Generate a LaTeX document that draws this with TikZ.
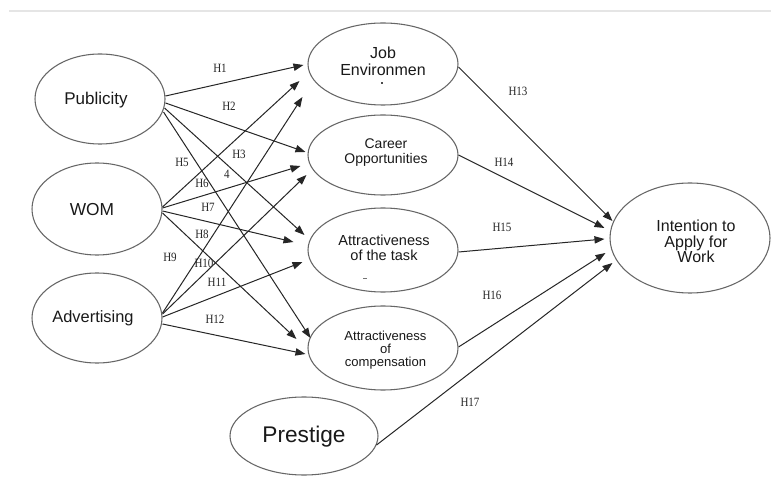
\documentclass[tikz,border=0pt]{standalone}
\usepackage{fontspec}
\setmainfont{Liberation Sans}
\newfontfamily\hfont[FakeStretch=0.87]{Liberation Serif}
\usetikzlibrary{arrows.meta,shapes.geometric}
\begin{document}
\begin{tikzpicture}[x=0.75pt,y=-0.75pt,
  ell/.style={draw=black!60, line width=0.8pt, ellipse, inner sep=0pt},
  lbl/.style={font=\hfont\fontsize{9.5}{10}\selectfont, text=black!85, inner sep=0pt},
  arr/.style={draw=black!85, line width=0.75pt, -{Triangle[length=7.5pt,width=5.5pt]}},
  txt/.style={align=center, inner sep=0pt, text=black!90}
]
\useasboundingbox (0,0) rectangle (771,477);
\fill[white] (0,0) rectangle (771,477);
\draw[black!10, line width=1.8pt] (9,11) -- (771,11);

% ellipses
\node[ell, minimum width=97.5pt, minimum height=67.5pt] (pub) at (100,99) {};
\node[ell, minimum width=97.5pt, minimum height=69pt] (wom) at (97,209) {};
\node[ell, minimum width=97.5pt, minimum height=67.5pt] (adv) at (97,318) {};
\node[ell, minimum width=111pt, minimum height=58.5pt] (pre) at (304,436) {};
\node[ell, minimum width=112.5pt, minimum height=61.5pt] (job) at (383,64) {};
\node[ell, minimum width=112.5pt, minimum height=60pt] (car) at (383,155) {};
\node[ell, minimum width=112.5pt, minimum height=63pt] (task) at (383,250) {};
\node[ell, minimum width=112.5pt, minimum height=63pt] (comp) at (383,348) {};
\node[ell, minimum width=120pt, minimum height=82.5pt] (int) at (690,238) {};

% texts
\node[txt, font=\fontsize{12.75}{14}\selectfont] (pubt) at (96,100) {Publicity};
\node[txt, font=\fontsize{13}{14}\selectfont] (womt) at (92,210) {WOM};
\node[txt, font=\fontsize{12.3}{14}\selectfont] (advt) at (93,318) {Advertising};
\node[txt, font=\fontsize{17}{19}\selectfont] (pret) at (304,437) {Prestige};
\node[txt, font=\fontsize{12}{12.8}\selectfont] (jobt) at (383,61.5) {Job\\Environmen};
\node[txt, font=\fontsize{10.5}{11.25}\selectfont] (cart) at (386,152.5) {Career\\Opportunities};
\node[txt, font=\fontsize{10.9}{11.25}\selectfont] (taskt) at (384,247.5) {Attractiveness\\of the task};
\node[txt, font=\fontsize{9.8}{9.8}\selectfont] (compt) at (385.5,350.5) {Attractiveness\\of\\compensation};
\node[txt, font=\fontsize{12}{11.8}\selectfont] (intt) at (696,241.5) {Intention to\\Apply for\\Work};
\fill[black!70] (381,82.3) rectangle (383,84.3);
\draw[black!55, line width=0.6pt] (363,278.5) -- (367,278.5);

% arrows into mediators
\draw[arr] ([shift={(0,-3)}]pub.east) -- ([shift={(-4,1)}]job.west);
\draw[arr] ([shift={(0,4)}]pub.east) -- ([shift={(-2,-3)}]car.west);
\draw[arr] ([shift={(-1,9)}]pub.east) -- ([shift={(-3,-15)}]task.west);
\draw[arr] ([shift={(-2,13)}]pub.east) -- ([shift={(3,-10)}]comp.west);

\draw[arr] ([shift={(0,-2)}]wom.east) -- ([shift={(-8,17)}]job.west);
\draw[arr] ([shift={(0,-1)}]wom.east) -- ([shift={(-7,11)}]car.west);
\draw[arr] ([shift={(0,2)}]wom.east) -- ([shift={(-14,-8)}]task.west);
\draw[arr] ([shift={(0,4)}]wom.east) -- ([shift={(-11,-9)}]comp.west);

\draw[arr] ([shift={(0,-5)}]adv.east) -- ([shift={(-5,33)}]job.west);
\draw[arr] ([shift={(0,-4)}]adv.east) -- ([shift={(-1,20)}]car.west);
\draw[arr] ([shift={(0,-1)}]adv.east) -- ([shift={(-5,12)}]task.west);
\draw[arr] ([shift={(0,6)}]adv.east) -- ([shift={(-2,6)}]comp.west);

% arrows into intention
\draw[arr] ([shift={(0,3)}]job.east) -- ([shift={(3,-17)}]int.west);
\draw[arr] (car.east) -- ([shift={(-5,-10)}]int.west);
\draw[arr] ([shift={(0,2)}]task.east) -- ([shift={(-5,1)}]int.west);
\draw[arr] ([shift={(0,-1)}]comp.east) -- ([shift={(-4,15)}]int.west);
\draw[arr] ([shift={(-2,9)}]pre.east) -- ([shift={(3,25)}]int.west);

% labels
\node[lbl] (h1) at (220,68) {H1};
\node[lbl] (h2) at (229,106) {H2};
\node[lbl] (h3) at (239,154) {H3};
\node[lbl] (h5) at (182,162) {H5};
\node[lbl] (h4) at (227,174) {4};
\node[lbl] (h6) at (202,183) {H6};
\node[lbl] (h7) at (208,207) {H7};
\node[lbl] (h8) at (202,234) {H8};
\node[lbl] (h9) at (170,257) {H9};
\node[lbl] (h10) at (204,263) {H10};
\node[lbl] (h11) at (217,282) {H11};
\node[lbl] (h12) at (215,319) {H12};
\node[lbl] (h13) at (518,91) {H13};
\node[lbl] (h14) at (504,162) {H14};
\node[lbl] (h15) at (502,227) {H15};
\node[lbl] (h16) at (492,295) {H16};
\node[lbl] (h17) at (470,402) {H17};
\end{tikzpicture}
\end{document}
